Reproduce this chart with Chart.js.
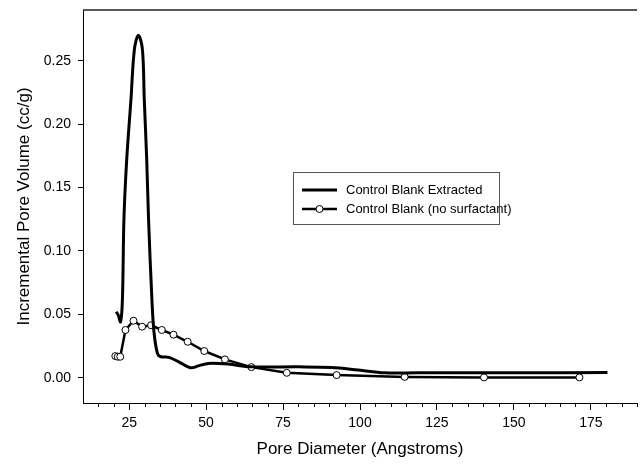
<!DOCTYPE html>
<html>
<head>
<meta charset="utf-8">
<script src="https://cdn.jsdelivr.net/npm/chart.js@4"></script>
<style>
  html, body { margin: 0; padding: 0; background: #fff; }
  #wrap { width: 642px; height: 466px; position: relative; }
</style>
</head>
<body>
<div id="wrap"><canvas id="poreChart"></canvas></div>
<script>
// pore diameter (Angstroms) and incremental pore volume (cc/g)
const extractedDiam = [20.8, 21.5, 22.2, 22.8, 23.3, 24.2, 25.6, 26.7, 28.0, 29.3, 29.9, 30.7, 31.3, 32.4, 33.1, 34.2, 35.3, 37.9, 41.1, 44.9, 47.5, 50.7, 57.1, 64.6, 80.1, 90.7, 99.4, 107.9, 118.6, 150.6, 180.4];
const extractedVol  = [0.052, 0.049, 0.044, 0.061, 0.125, 0.172, 0.220, 0.259, 0.270, 0.259, 0.220, 0.172, 0.125, 0.061, 0.035, 0.019, 0.0165, 0.016, 0.0125, 0.0078, 0.0093, 0.0112, 0.0107, 0.0085, 0.0085, 0.008, 0.006, 0.0038, 0.0038, 0.0038, 0.0040];

const blankDiam = [20.5, 21.3, 22.1, 23.8, 26.4, 29.2, 32.1, 35.6, 39.4, 44.0, 49.4, 56.1, 64.7, 76.2, 92.4, 114.5, 140.3, 171.3];
const blankVol  = [0.017, 0.0165, 0.0165, 0.0376, 0.0449, 0.0402, 0.0413, 0.0376, 0.0339, 0.0283, 0.021, 0.0144, 0.0083, 0.0038, 0.002, 0.0006, 0.0002, 0.0002];

const seriesNames = ['Control Blank Extracted', 'Control Blank (no surfactant)'];
const xTicks = [25, 50, 75, 100, 125, 150, 175];
const yTicks = [0, 0.05, 0.10, 0.15, 0.20, 0.25];

const FONT = 'Arial, "Liberation Sans", Helvetica, sans-serif';

function toPoints(xs, ys) {
    return xs.map((x, i) => ({ x: x, y: ys[i] }));
}

// minor x ticks, top frame line and the boxed legend
const decorPlugin = {
    id: 'decor',
    afterDraw(chart) {
        const ctx = chart.ctx;
        const area = chart.chartArea;
        const xs = chart.scales.x;
        ctx.save();
        ctx.strokeStyle = '#000';
        ctx.lineWidth = 1;
        ctx.beginPath();
        for (let v = 15; v <= 190; v += 5) {
            if (v % 25 === 0) continue;
            const px = Math.round(xs.getPixelForValue(v)) + 0.5;
            ctx.moveTo(px, area.bottom);
            ctx.lineTo(px, area.bottom + 4);
        }
        ctx.stroke();

        // top frame
        ctx.lineWidth = 1.5;
        ctx.strokeStyle = '#222';
        ctx.beginPath();
        ctx.moveTo(area.left, area.top);
        ctx.lineTo(area.right, area.top);
        ctx.stroke();

        // legend box
        ctx.lineWidth = 1;
        ctx.strokeStyle = '#555';
        ctx.strokeRect(293.5, 172.5, 206, 52);

        ctx.font = '13px ' + FONT;
        ctx.fillStyle = '#000';
        ctx.textBaseline = 'middle';
        ctx.textAlign = 'left';

        ctx.strokeStyle = '#000';
        ctx.lineWidth = 3;
        ctx.beginPath();
        ctx.moveTo(302, 190);
        ctx.lineTo(337, 190);
        ctx.stroke();
        ctx.fillText(seriesNames[0], 346, 190);

        ctx.lineWidth = 2.5;
        ctx.beginPath();
        ctx.moveTo(302, 209);
        ctx.lineTo(337, 209);
        ctx.stroke();
        ctx.beginPath();
        ctx.arc(319.5, 209, 3.5, 0, Math.PI * 2);
        ctx.fillStyle = '#fff';
        ctx.fill();
        ctx.lineWidth = 1;
        ctx.stroke();
        ctx.fillStyle = '#000';
        ctx.fillText(seriesNames[1], 346, 209);
        ctx.restore();
    }
};

const ctx = document.getElementById('poreChart').getContext('2d');
const chart = new Chart(ctx, {
    type: 'line',
    data: {
        datasets: [{
            label: seriesNames[0],
            data: toPoints(extractedDiam, extractedVol),
            borderColor: '#000',
            borderWidth: 3,
            pointRadius: 0,
            tension: 0.35,
            fill: false
        }, {
            label: seriesNames[1],
            data: toPoints(blankDiam, blankVol),
            borderColor: '#000',
            borderWidth: 2.5,
            pointRadius: 3.5,
            pointBorderWidth: 1,
            pointBackgroundColor: '#fff',
            pointBorderColor: '#000',
            tension: 0,
            fill: false
        }]
    },
    options: {
        responsive: true,
        maintainAspectRatio: false,
        animation: false,
        layout: { padding: { top: 10, right: 0, left: 0, bottom: 0 } },
        plugins: {
            legend: { display: false },
            tooltip: { enabled: false }
        },
        scales: {
            x: {
                type: 'linear',
                min: 10,
                max: 190,
                afterBuildTicks: s => { s.ticks = xTicks.map(v => ({ value: v })); },
                afterFit: s => { s.height = 63; s.paddingLeft = 0; s.paddingRight = 0; },
                ticks: { color: '#000', font: { family: FONT, size: 14 }, padding: 5, maxRotation: 0, autoSkip: false },
                grid: { drawOnChartArea: false, tickLength: 7, tickColor: '#000', tickWidth: 1 },
                border: { color: '#000', width: 1 },
                title: {
                    display: true,
                    text: 'Pore Diameter (Angstroms)',
                    color: '#000',
                    font: { family: FONT, size: 17 },
                    padding: { top: 0, bottom: 6 }
                }
            },
            y: {
                min: -0.02,
                max: 0.29,
                afterBuildTicks: s => { s.ticks = yTicks.map(v => ({ value: v })); },
                afterFit: s => { s.width = 83; s.paddingTop = 0; s.paddingBottom = 0; },
                ticks: {
                    color: '#000',
                    font: { family: FONT, size: 14 },
                    padding: 7,
                    callback: v => v.toFixed(2)
                },
                grid: { drawOnChartArea: false, tickLength: 5, tickColor: '#000', tickWidth: 1 },
                border: { color: '#000', width: 1 },
                title: {
                    display: true,
                    text: 'Incremental Pore Volume (cc/g)',
                    color: '#000',
                    font: { family: FONT, size: 17 },
                    padding: { top: 14, bottom: 0 }
                }
            }
        }
    },
    plugins: [decorPlugin]
});
</script>
</body>
</html>
